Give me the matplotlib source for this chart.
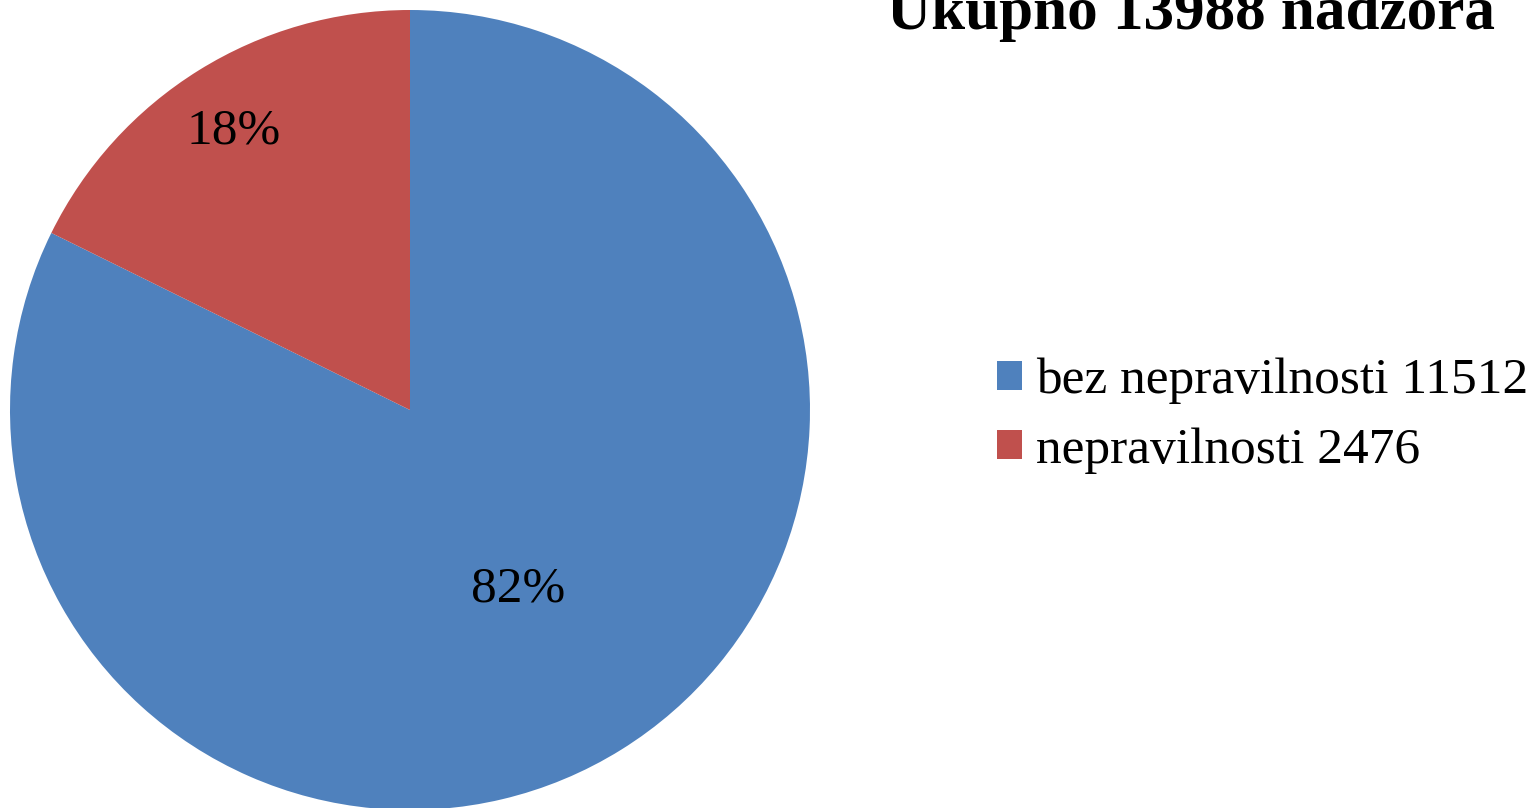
import numpy as np
import matplotlib
matplotlib.use("Agg")
import matplotlib.pyplot as plt
from matplotlib.patches import Patch

categories = ["bez nepravilnosti", "nepravilnosti"]
values = [11512, 2476]
colors = ["#4F81BD", "#C0504D"]
title = "Ukupno 13988 nadzora"
label_radii = [0.51, 0.837]

W, H = 1537, 808
fig = plt.figure(figsize=(W / 100, H / 100), dpi=100)
fig.patch.set_facecolor("white")
serif = ["Liberation Serif", "DejaVu Serif"]

cx, cy, r = 410, 410, 400
ax = fig.add_axes([(cx - r) / W, (H - cy - r) / H, 2 * r / W, 2 * r / H])
wedges, _ = ax.pie(values, colors=colors, startangle=90, counterclock=False,
                   radius=1.0, wedgeprops=dict(linewidth=0))
ax.set_xlim(-1, 1)
ax.set_ylim(-1, 1)
ax.set_aspect("equal")
ax.axis("off")

total = sum(values)
for w, v, rr in zip(wedges, values, label_radii):
    ang = np.deg2rad((w.theta1 + w.theta2) / 2)
    ax.text(rr * np.cos(ang), rr * np.sin(ang), f"{round(100 * v / total)}%",
            ha="center", va="center_baseline", fontsize=37, family=serif, color="black")

fig.text(1191 / W, 1 - 29 / H, title, ha="center", va="baseline",
         fontsize=44, fontweight="bold", family=serif)

handles = [Patch(facecolor=c, edgecolor="none") for c in colors]
labels = [f"{c} {v}" for c, v in zip(categories, values)]
fig.legend(handles, labels, loc="upper left", bbox_to_anchor=(997 / W, 1 - 358 / H),
           frameon=False, prop=dict(family=serif, size=37),
           handlelength=0.49, handleheight=0.49, handletextpad=0.27,
           labelspacing=0.44, borderaxespad=0, borderpad=0)

fig.savefig("out.png", dpi=100)
